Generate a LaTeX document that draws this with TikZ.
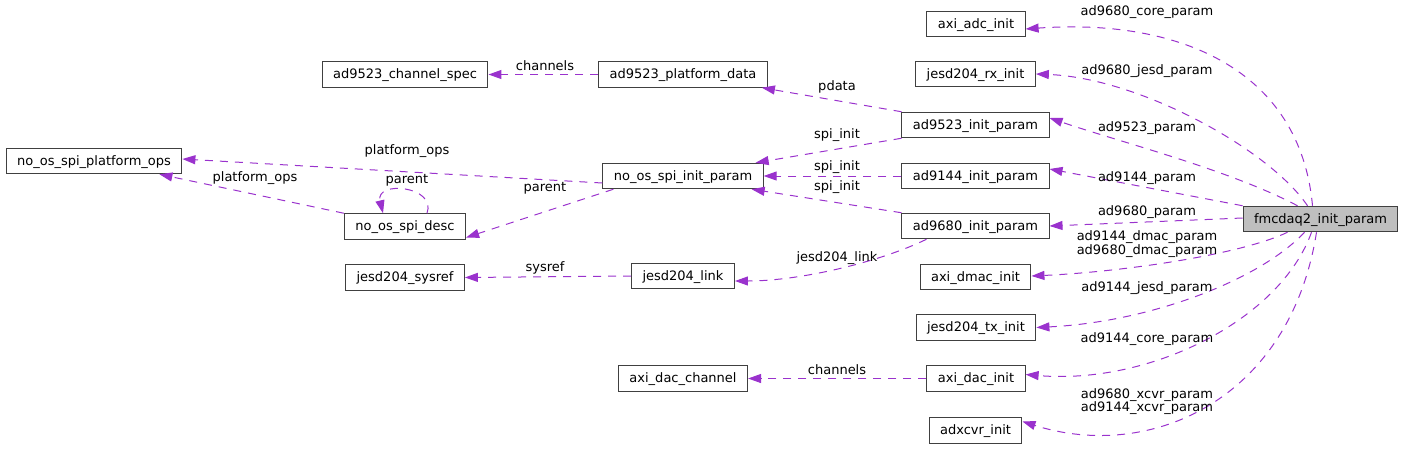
\documentclass[tikz,border=0pt]{standalone}
\usepackage{fontspec}
\setmainfont{DejaVu Sans}
\usetikzlibrary{arrows.meta,calc}
\definecolor{edgec}{HTML}{9A32CD}
\definecolor{boxc}{HTML}{404040}
\definecolor{hilite}{HTML}{BFBFBF}
\begin{document}
\begin{tikzpicture}[x=1pt,y=-1pt,
  every node/.style={font=\fontsize{13}{14}\selectfont},
  cls/.style={draw=boxc,line width=1pt,rectangle,inner xsep=11pt,inner ysep=0pt,minimum height=25.5pt,text depth=0.25ex},
  main/.style={cls,fill=hilite},
  rel/.style={draw=edgec,line width=1pt,dash pattern=on 8pt off 7pt,-{Triangle[length=13pt,width=9pt,fill=edgec]}},
  lbl/.style={inner sep=0pt,align=center}]
\useasboundingbox (0,0) rectangle (1404,453);

% nodes
\node[main] (fm) at (1320.5,219) {fmcdaq2\_init\_param};
\node[cls] (adc) at (976,24) {axi\_adc\_init};
\node[cls] (jrx) at (975.5,74) {jesd204\_rx\_init};
\node[cls] (a9523) at (975.5,125) {ad9523\_init\_param};
\node[cls] (a9144) at (975.5,176) {ad9144\_init\_param};
\node[cls] (a9680) at (975.5,226) {ad9680\_init\_param};
\node[cls] (dmac) at (975.5,277) {axi\_dmac\_init};
\node[cls] (jtx) at (976,327.5) {jesd204\_tx\_init};
\node[cls] (dac) at (976,378.5) {axi\_dac\_init};
\node[cls] (xcvr) at (975.5,430.5) {adxcvr\_init};
\node[cls] (pd) at (683,74.5) {ad9523\_platform\_data};
\node[cls] (cs) at (405,74.5) {ad9523\_channel\_spec};
\node[cls] (spi) at (683,176) {no\_os\_spi\_init\_param};
\node[cls] (ops) at (94,161) {no\_os\_spi\_platform\_ops};
\node[cls] (desc) at (405,226.5) {no\_os\_spi\_desc};
\node[cls] (sysref) at (405,277.5) {jesd204\_sysref};
\node[cls] (link) at (683,276) {jesd204\_link};
\node[cls] (dch) at (683,378.5) {axi\_dac\_channel};

% edges from fmcdaq2_init_param
\draw[rel] ([xshift=-8pt]fm.north) .. controls (1300,70) and (1180,18) .. ([yshift=-5pt]adc.east);
\draw[rel] ([xshift=-13pt]fm.north) .. controls (1270,150) and (1140,78) .. (jrx.east);
\draw[rel] ([xshift=-23pt]fm.north) .. controls (1230,170) and (1120,142) .. ([yshift=7pt]a9523.east);
\draw[rel] (fm.north west) -- ([yshift=7pt]a9144.east);
\draw[rel] ([yshift=1pt]fm.west) -- (a9680.east);
\draw[rel] ([xshift=-33pt]fm.south) .. controls (1240,255) and (1120,272) .. ([yshift=1pt]dmac.east);
\draw[rel] ([xshift=-16pt]fm.south) .. controls (1260,280) and (1150,322) .. (jtx.east);
\draw[rel] ([xshift=-9pt]fm.south) .. controls (1280,320) and (1150,385) .. ([yshift=4pt]dac.east);
\draw[rel] ([xshift=-4pt]fm.south) .. controls (1290,400) and (1150,462) .. ([yshift=9pt]xcvr.east);

% other edges
\draw[rel] (a9523.north west) -- ([xshift=-6pt]pd.south east);
\draw[rel] (pd.west) -- (cs.east);
\draw[rel] (a9523.south west) -- ([xshift=-8pt]spi.north east);
\draw[rel] (a9144.west) -- (spi.east);
\draw[rel] (a9680.north west) -- ([xshift=-12pt]spi.south east);
\draw[rel] ([xshift=25pt]a9680.south west) .. controls (880,262) and (800,281) .. ([yshift=-5pt]link.east);
\draw[rel] ([yshift=-7pt]spi.west) -- ([yshift=2pt]ops.east);
\draw[rel] ([xshift=11pt]spi.south west) -- ([yshift=-11pt]desc.east);
\draw[rel] (desc.north west) -- ([xshift=-23pt]ops.south east);
\draw[rel] ([xshift=22pt]desc.north) .. controls (437,186) and (375,180) .. ([xshift=-22pt]desc.north);
\draw[rel] (link.west) -- (sysref.east);
\draw[rel] (dac.west) -- (dch.east);

% labels
\node[lbl] (l1) at (1147,12) {ad9680\_core\_param};
\node[lbl] (l2) at (1147,71) {ad9680\_jesd\_param};
\node[lbl] (l3) at (1147,128) {ad9523\_param};
\node[lbl] (l4) at (1147,178) {ad9144\_param};
\node[lbl] (l5) at (1147,212) {ad9680\_param};
\node[lbl,font=\fontsize{13}{14.5}\selectfont] (l6) at (1147,244) {ad9144\_dmac\_param\\ad9680\_dmac\_param};
\node[lbl] (l7) at (1147,288) {ad9144\_jesd\_param};
\node[lbl] (l8) at (1147,339) {ad9144\_core\_param};
\node[lbl,font=\fontsize{13}{13.5}\selectfont] (l9) at (1147,401.5) {ad9680\_xcvr\_param\\ad9144\_xcvr\_param};
\node[lbl] (l10) at (837,87) {pdata};
\node[lbl] (l11) at (837,135) {spi\_init};
\node[lbl] (l12) at (837,167) {spi\_init};
\node[lbl] (l13) at (837,187) {spi\_init};
\node[lbl] (l14) at (837,258) {jesd204\_link};
\node[lbl] (l15) at (545,66) {channels};
\node[lbl] (l16) at (407,151) {platform\_ops};
\node[lbl] (l17) at (255,178) {platform\_ops};
\node[lbl] (l18) at (407,180) {parent};
\node[lbl] (l19) at (545,188) {parent};
\node[lbl] (l20) at (545,268) {sysref};
\node[lbl] (l21) at (837,370) {channels};
\end{tikzpicture}
\end{document}
